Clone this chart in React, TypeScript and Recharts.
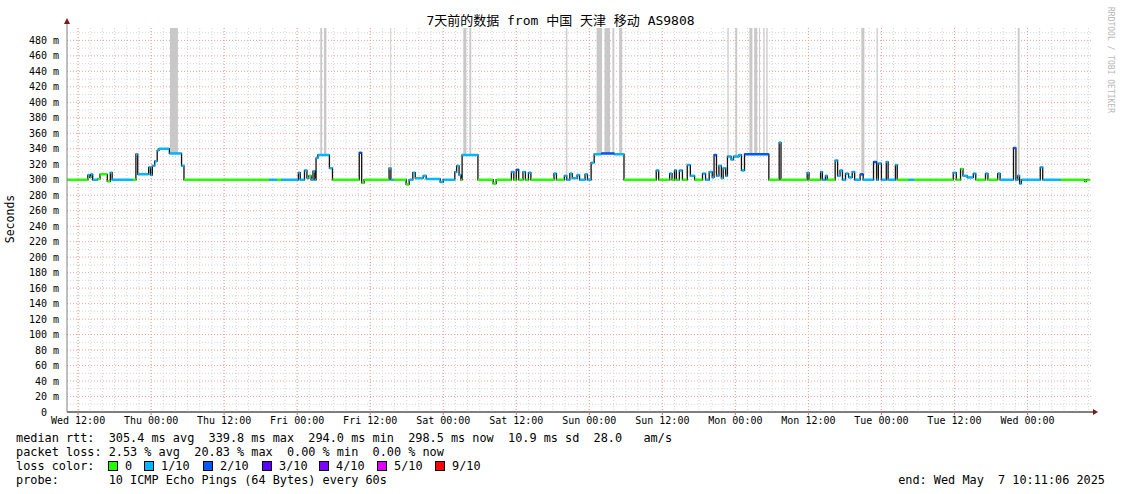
import React from 'react';
import { ComposedChart, Line, XAxis, YAxis, CartesianGrid, ReferenceArea } from 'recharts';

// smokeping loss palette
const LOSS_COLORS = ['#26ff00', '#00b8ff', '#0059ff', '#5e00ff', '#7e00ff', '#dd00ff', '#ff0000'];
const LOSS_LABELS = ['0', '1/10', '2/10', '3/10', '4/10', '5/10', '9/10'];

// time axis: hours since Wed 00:00 (Apr 30)
const X_START = 10.18;
const X_END = 178.6;
const RUN_END = 178.2;
const xTicks = [12, 24, 36, 48, 60, 72, 84, 96, 108, 120, 132, 144, 156, 168];
const xTickLabels = [
  'Wed 12:00', 'Thu 00:00', 'Thu 12:00', 'Fri 00:00', 'Fri 12:00', 'Sat 00:00', 'Sat 12:00',
  'Sun 00:00', 'Sun 12:00', 'Mon 00:00', 'Mon 12:00', 'Tue 00:00', 'Tue 12:00', 'Wed 00:00'
];
const yTicks = [0, 20, 40, 60, 80, 100, 120, 140, 160, 180, 200, 220, 240, 260, 280, 300, 320, 340, 360, 380, 400, 420, 440, 460, 480];

// median rtt, one entry per step: start hour, value (ms), loss level index
const runStart = [
  10.2, 13.6, 13.9, 14.1, 14.4, 15.2, 15.6, 16.8, 17.3, 17.6, 20.9, 21.5, 21.8, 23.6, 23.9,
  24.2, 24.6, 25.0, 25.3, 27.0, 29.0, 29.4, 43.4, 44.6, 45.4,
  48.2, 48.5, 49.2, 49.6, 49.9, 50.3, 50.6, 50.9, 51.1, 51.4, 53.3, 53.8, 58.2, 58.6, 59.0,
  63.1, 63.4, 63.8, 65.9, 66.4, 67.0, 67.4, 68.7, 69.2, 71.5,
  72.0, 73.9, 74.2, 74.6, 74.9, 75.1, 77.7, 80.2, 80.7, 83.2, 83.6, 84.0, 84.4, 85.1, 85.5,
  86.0, 86.4, 90.2, 90.6, 91.9, 92.3, 92.8, 93.2, 94.0, 94.4, 95.3, 95.7,
  96.3, 96.8, 98.0, 100.1, 101.7, 107.0, 107.4, 109.2, 109.6, 110.0, 110.3, 110.8, 111.3,
  112.1, 112.6, 113.3, 114.6, 115.1, 115.7, 116.2, 116.5, 116.9, 117.3, 117.7, 118.0, 118.4,
  118.7, 119.3, 119.7,
  120.6, 121.0, 121.5, 125.5, 127.2, 127.5, 131.8, 132.1, 134.0, 134.3, 134.8, 135.1, 136.4,
  136.8, 137.2, 137.6, 138.1, 138.6, 139.2, 139.6, 140.5, 141.0, 142.7, 143.2,
  143.5, 144.0, 144.8, 145.1, 146.3, 146.6, 148.5, 149.3, 155.8, 156.3, 157.0, 157.4, 158.1,
  159.1, 159.5, 161.1, 161.5, 163.1, 163.5,
  165.7, 166.1, 166.4, 166.7, 167.0, 170.1, 170.5, 173.4, 177.4, 177.7
];
const runValue = [
  300, 306, 303, 307, 300, 301, 307, 298, 309, 300, 300, 333, 307, 316, 306,
  318, 324, 338, 340, 334, 318, 300, 300, 300, 300,
  309, 300, 312, 302, 305, 300, 311, 300, 328, 332, 315, 300, 335, 296, 300,
  315, 300, 300, 294, 300, 309, 302, 305, 301, 297,
  300, 310, 318, 306, 300, 332, 300, 295, 300, 310, 300, 313, 300, 310, 300,
  309, 300, 308, 300, 305, 300, 308, 302, 306, 300, 307, 300,
  322, 333, 334, 333, 300, 312, 300, 308, 300, 312, 300, 312, 300,
  319, 305, 300, 308, 300, 310, 303, 332, 305, 318, 302, 315, 305,
  330, 326, 330,
  332, 312, 333, 300, 348, 300, 309, 300, 310, 300, 305, 300, 325,
  305, 312, 300, 308, 303, 310, 300, 307, 300, 323, 300,
  321, 300, 323, 300, 319, 300, 300, 300, 309, 300, 314, 305, 303,
  308, 300, 308, 300, 308, 300,
  341, 300, 305, 295, 300, 316, 300, 300, 298, 300
];
const runLoss = [
  0, 1, 0, 1, 1, 0, 0, 0, 1, 1, 0, 1, 1, 1, 1,
  1, 1, 1, 1, 1, 1, 0, 1, 0, 1,
  1, 1, 1, 1, 0, 1, 1, 1, 1, 1, 1, 0, 2, 0, 0,
  1, 1, 0, 0, 1, 1, 1, 1, 1, 1,
  1, 1, 1, 1, 0, 1, 0, 0, 0, 1, 0, 2, 0, 1, 0,
  1, 0, 1, 0, 1, 1, 1, 1, 1, 1, 1, 1,
  1, 1, 2, 1, 0, 1, 0, 1, 0, 1, 0, 1, 0,
  1, 1, 0, 1, 1, 1, 1, 2, 1, 1, 1, 1, 1,
  1, 1, 1,
  1, 1, 2, 0, 1, 0, 1, 0, 1, 1, 1, 0, 1,
  1, 1, 1, 1, 1, 1, 1, 2, 1, 2, 1,
  1, 1, 1, 1, 1, 0, 1, 0, 1, 0, 0, 1, 1,
  1, 0, 1, 0, 1, 1,
  2, 1, 1, 1, 1, 1, 1, 0, 0, 0
];

// tall smoke columns (slow pings above the graph top)
const smokeStart = [27.1, 51.8, 52.4, 63.3, 75.3, 76.3, 92.2, 97.2, 98.5, 99.8, 100.9, 118.7, 120.0, 122.3, 123.1, 123.9, 124.6, 125.1, 140.7, 143.2, 166.4];
const smokeEnd = [28.4, 52.1, 52.8, 63.45, 75.8, 76.6, 92.4, 98.1, 99.4, 100.1, 101.4, 118.9, 120.3, 122.8, 123.6, 124.05, 124.8, 125.3, 141.2, 143.4, 166.7];
const smokeLow = [335, 332, 332, 315, 332, 332, 305, 334, 334, 334, 334, 330, 332, 334, 334, 334, 334, 334, 305, 305, 305];

const Y_MAX = 496;
const MONO = '"DejaVu Sans Mono", monospace';

const rows: any[] = [];
runStart.forEach((t0, i) => {
  const t1 = i + 1 < runStart.length ? runStart[i + 1] : RUN_END;
  const v = runValue[i];
  const k = `l${runLoss[i]}`;
  rows.push({ t: t0, med: v, [k]: v });
  rows.push({ t: t1, med: v, [k]: v });
  rows.push({ t: t1, med: v });
});

const yMinor = yTicks.map((v) => v + 10);
const xMinor: number[] = [];
for (let h = 12; h <= 178; h += 2) xMinor.push(h);

const YTick = (props: any) => {
  const { x, y, payload } = props;
  const v = payload.value;
  return (
    <text x={v === 0 ? x - 12 : x} y={y} dy={3.5} textAnchor="end" fontSize={10} fontFamily={MONO} fill="#000">
      {v === 0 ? '0' : `${v} m`}
    </text>
  );
};

const XTick = (props: any) => {
  const { x, y, payload } = props;
  const idx = xTicks.indexOf(payload.value);
  return (
    <text x={x} y={y} dy={7} textAnchor="middle" fontSize={10} fontFamily={MONO} fill="#000">
      {xTickLabels[idx]}
    </text>
  );
};

const legendRow: React.CSSProperties = {
  position: 'absolute', left: 16, fontSize: 11.85, lineHeight: '14px', whiteSpace: 'pre', color: '#000'
};

export default function App() {
  return (
    <div style={{ position: 'absolute', left: 0, top: 0, width: 1121, height: 494, background: '#fff', fontFamily: MONO, overflow: 'hidden' }}>
      <ComposedChart width={1121} height={494} data={rows} margin={{ top: 28, right: 29, bottom: 0, left: 0 }}>
        <CartesianGrid horizontalValues={yMinor} verticalValues={xMinor} stroke="#d4d4d4" strokeDasharray="1 2" />
        <CartesianGrid horizontalValues={yTicks.slice(1)} verticalValues={xTicks} stroke="#f0a0a0" strokeDasharray="1 2" />
        <XAxis
          dataKey="t"
          type="number"
          domain={[X_START, X_END]}
          ticks={xTicks}
          interval={0}
          allowDataOverflow
          height={82}
          tick={<XTick />}
          tickSize={3}
          tickMargin={2}
          axisLine={{ stroke: '#000' }}
          tickLine={{ stroke: '#d07070' }}
        />
        <YAxis
          type="number"
          domain={[0, Y_MAX]}
          ticks={yTicks}
          interval={0}
          allowDataOverflow
          width={67}
          tick={<YTick />}
          tickSize={0}
          tickMargin={8}
          axisLine={{ stroke: '#808080' }}
          tickLine={false}
        />
        {smokeStart.map((s, i) => (
          <ReferenceArea key={`smoke-${i}`} x1={s} x2={smokeEnd[i]} y1={smokeLow[i]} y2={Y_MAX} fill="#c8c8c8" fillOpacity={1} stroke="none" ifOverflow="hidden" />
        ))}
        <Line dataKey="med" type="linear" stroke="#111" strokeWidth={1.3} dot={false} activeDot={false} isAnimationActive={false} connectNulls={false} />
        {[0, 1, 2].map((l) => (
          <Line key={`loss-${l}`} dataKey={`l${l}`} type="linear" stroke={LOSS_COLORS[l]} strokeWidth={2.5} dot={false} activeDot={false} isAnimationActive={false} connectNulls={false} />
        ))}
      </ComposedChart>

      <svg width={1121} height={494} style={{ position: 'absolute', left: 0, top: 0, pointerEvents: 'none' }}>
        <line x1={67} y1={22} x2={67} y2={28} stroke="#808080" />
        <polygon points="64,24 70,24 67,18" fill="#7a1a1a" />
        <line x1={1092} y1={412} x2={1094} y2={412} stroke="#000" />
        <polygon points="1093,409 1093,415 1098,412" fill="#7a1a1a" />
      </svg>

      <div style={{ position: 'absolute', left: 0, top: 13, width: 1121, textAlign: 'center', fontSize: 13, lineHeight: '16px', fontFamily: '"DejaVu Sans Mono", "Noto Sans CJK SC", monospace', whiteSpace: 'pre' }}>
        7天前的数据 from 中国 天津 移动 AS9808
      </div>

      <div style={{ position: 'absolute', left: 10, top: 219, transform: 'translate(-50%, -50%) rotate(-90deg)', fontSize: 11.5, lineHeight: '14px', whiteSpace: 'pre' }}>
        Seconds
      </div>

      <div style={{ position: 'absolute', left: 1110, top: 60, transform: 'translate(-50%, -50%) rotate(90deg)', fontSize: 8, lineHeight: '10px', color: '#b8b8b8', whiteSpace: 'pre' }}>
        RRDTOOL / TOBI OETIKER
      </div>

      <div style={{ ...legendRow, top: 431 }}>{'median rtt:  305.4 ms avg  339.8 ms max  294.0 ms min  298.5 ms now  10.9 ms sd  28.0   am/s'}</div>
      <div style={{ ...legendRow, top: 445 }}>{'packet loss: 2.53 % avg  20.83 % max  0.00 % min  0.00 % now'}</div>
      <div style={{ ...legendRow, top: 459 }}>{'loss color:'}</div>
      {LOSS_LABELS.map((lab, i) => {
        const left = [108, 144, 203, 262, 319, 377, 435][i];
        return (
          <React.Fragment key={lab}>
            <div style={{ position: 'absolute', left, top: 461, width: 8, height: 8, background: LOSS_COLORS[i], border: '1px solid #000' }} />
            <div style={{ ...legendRow, left: left + 17, top: 459 }}>{lab}</div>
          </React.Fragment>
        );
      })}
      <div style={{ ...legendRow, top: 473 }}>{'probe:       10 ICMP Echo Pings (64 Bytes) every 60s'}</div>
      <div style={{ ...legendRow, left: 'auto', right: 16, top: 473 }}>{'end: Wed May  7 10:11:06 2025'}</div>
    </div>
  );
}
